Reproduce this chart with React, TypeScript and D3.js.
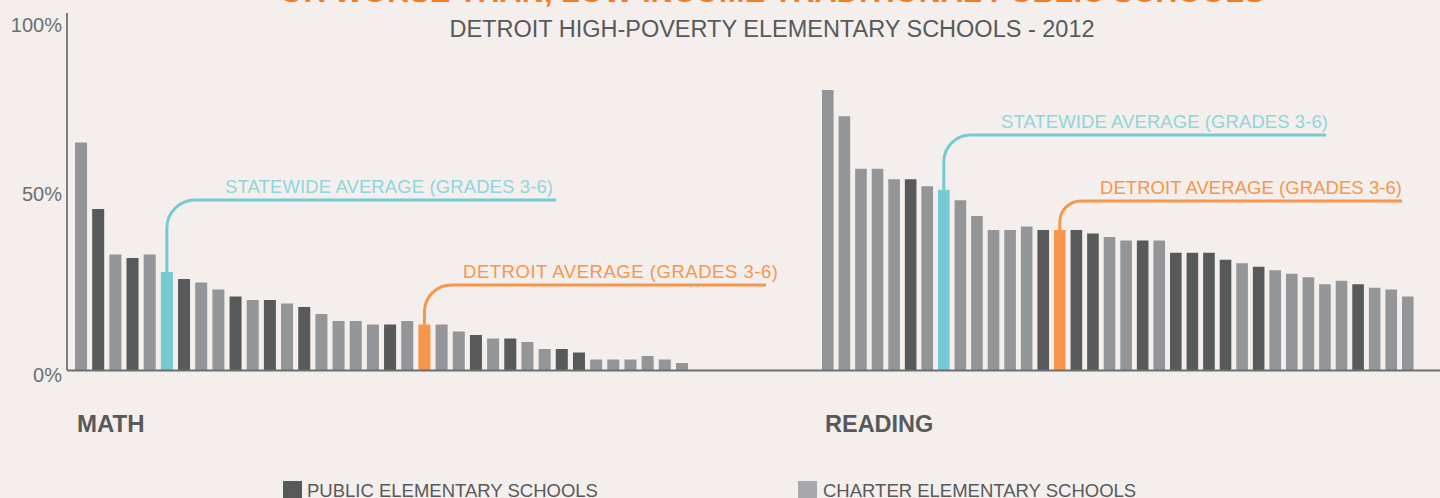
import React from "react";
import * as d3 from "d3";

// C = charter, P = public, S = statewide average, D = Detroit average
const mathValues = [65, 46, 33, 32, 33, 28, 26, 25, 23, 21, 20, 20, 19, 18, 16, 14, 14, 13, 13, 14, 13, 13, 11, 10, 9, 9, 8, 6, 6, 5, 3, 3, 3, 4, 3, 2];
const mathTypes = ["C", "P", "C", "P", "C", "S", "P", "C", "C", "P", "C", "P", "C", "P", "C", "C", "C", "C", "P", "C", "D", "C", "C", "P", "C", "P", "C", "C", "P", "P", "C", "C", "C", "C", "C", "C"];

const readingValues = [80, 72.5, 57.5, 57.5, 54.5, 54.5, 52.5, 51.5, 48.5, 44, 40, 40, 41, 40, 40, 40, 39, 38, 37, 37, 37, 33.5, 33.5, 33.5, 31.5, 30.5, 29.5, 28.5, 27.5, 26.5, 24.5, 25.5, 24.5, 23.5, 23, 21];
const readingTypes = ["C", "C", "C", "C", "C", "P", "C", "S", "C", "C", "C", "C", "C", "P", "D", "P", "P", "C", "C", "P", "C", "P", "P", "P", "P", "C", "P", "C", "C", "C", "C", "C", "P", "C", "C", "C"];

const yTicks = [0, 50, 100];
const legendLabels = ["PUBLIC ELEMENTARY SCHOOLS", "CHARTER ELEMENTARY SCHOOLS"];

const W = 1440;
const H = 498;
const FONT = "'Liberation Sans', Arial, Helvetica, sans-serif";
const BG = "#f4efec";
const DARK = "#58595b";
const LIGHT = "#939598";
const CYAN = "#74cbd3";
const CYAN_TEXT = "#8fd5dc";
const ORANGE = "#f7964b";

const colorOf: Record<string, string> = { C: LIGHT, P: DARK, S: CYAN, D: ORANGE };

const y = d3.scaleLinear().domain([0, 100]).range([370, 20]);

const xMath = d3
  .scaleBand<number>()
  .domain(d3.range(mathValues.length))
  .range([75, 688])
  .paddingInner(0.3)
  .paddingOuter(0);

const xReading = d3
  .scaleBand<number>()
  .domain(d3.range(readingValues.length))
  .range([822, 1413.6])
  .paddingInner(0.3)
  .paddingOuter(0);

type Callout = { label: string; lineY: number; endX: number; textX: number; textEnd: number; r: number };

function calloutPath(cx: number, top: number, c: Callout) {
  const r = Math.min(c.r, top - c.lineY);
  return `M${cx},${top} L${cx},${c.lineY + r} A${r},${r} 0 0 1 ${cx + r},${c.lineY} L${c.endX},${c.lineY}`;
}

function Group({
  values,
  types,
  x,
  callouts,
}: {
  values: number[];
  types: string[];
  x: d3.ScaleBand<number>;
  callouts: Record<string, Callout>;
}) {
  return (
    <g>
      {values.map((v, i) => (
        <rect key={i} x={x(i)} y={y(v)} width={x.bandwidth()} height={y(0) - y(v)} fill={colorOf[types[i]]} />
      ))}
      {values.map((v, i) => {
        const c = callouts[types[i]];
        if (!c) return null;
        const cx = (x(i) as number) + x.bandwidth() / 2;
        const col = types[i] === "S" ? CYAN : ORANGE;
        return (
          <g key={"c" + i}>
            <path d={calloutPath(cx, y(v), c)} fill="none" stroke={col} strokeWidth={3} />
            <text
              x={c.textX}
              y={c.lineY - 7}
              fontSize={18.5}
              fill={types[i] === "S" ? CYAN_TEXT : ORANGE}
              textLength={c.textEnd - c.textX}
              lengthAdjust="spacing"
            >
              {c.label}
            </text>
          </g>
        );
      })}
    </g>
  );
}

export default function App() {
  return (
    <div style={{ position: "absolute", left: 0, top: 0 }}>
      <svg width={W} height={H} style={{ display: "block", fontFamily: FONT }}>
        <rect width={W} height={H} fill={BG} />

        {/* title, mostly cut off at the top */}
        <text x={772} y={2} textAnchor="middle" fontSize={30} fontWeight="bold" fill="#f47b20" textLength={985} lengthAdjust="spacingAndGlyphs">
          OR WORSE THAN, LOW-INCOME TRADITIONAL PUBLIC SCHOOLS
        </text>
        <text x={772} y={37} textAnchor="middle" fontSize={23.5} fill={DARK}>
          DETROIT HIGH-POVERTY ELEMENTARY SCHOOLS - 2012
        </text>

        {/* y axis */}
        <line x1={67} x2={67} y1={13} y2={y(0)} stroke={DARK} strokeWidth={1.5} />
        {yTicks.map((t) => (
          <text key={t} x={62} y={y(t) + (t === 50 ? 6 : 12)} textAnchor="end" fontSize={20} fill="#6d6e71">
            {t}%
          </text>
        ))}

        <Group
          values={mathValues}
          types={mathTypes}
          x={xMath}
          callouts={{
            S: { label: "STATEWIDE AVERAGE (GRADES 3-6)", lineY: 200, endX: 556, textX: 225, textEnd: 553, r: 28 },
            D: { label: "DETROIT AVERAGE (GRADES 3-6)", lineY: 285, endX: 766, textX: 463, textEnd: 778, r: 27 },
          }}
        />
        <Group
          values={readingValues}
          types={readingTypes}
          x={xReading}
          callouts={{
            S: { label: "STATEWIDE AVERAGE (GRADES 3-6)", lineY: 135, endX: 1326, textX: 1001, textEnd: 1328, r: 27 },
            D: { label: "DETROIT AVERAGE (GRADES 3-6)", lineY: 201, endX: 1402, textX: 1100, textEnd: 1402, r: 21 },
          }}
        />

        {/* baseline */}
        <line x1={67} x2={W} y1={y(0) + 0.5} y2={y(0) + 0.5} stroke="#6d6e71" strokeWidth={2} />

        <text x={77} y={432} fontSize={24} fontWeight="bold" fill={DARK}>
          MATH
        </text>
        <text x={825} y={432} fontSize={23.5} fontWeight="bold" fill={DARK}>
          READING
        </text>

        {/* legend */}
        <rect x={283} y={481} width={19} height={19} fill={DARK} />
        <text x={307} y={497} fontSize={18.5} fill={DARK}>
          {legendLabels[0]}
        </text>
        <rect x={798} y={481} width={19} height={19} fill="#a7a9ac" />
        <text x={823} y={497} fontSize={18.5} fill={DARK}>
          {legendLabels[1]}
        </text>
      </svg>
    </div>
  );
}
